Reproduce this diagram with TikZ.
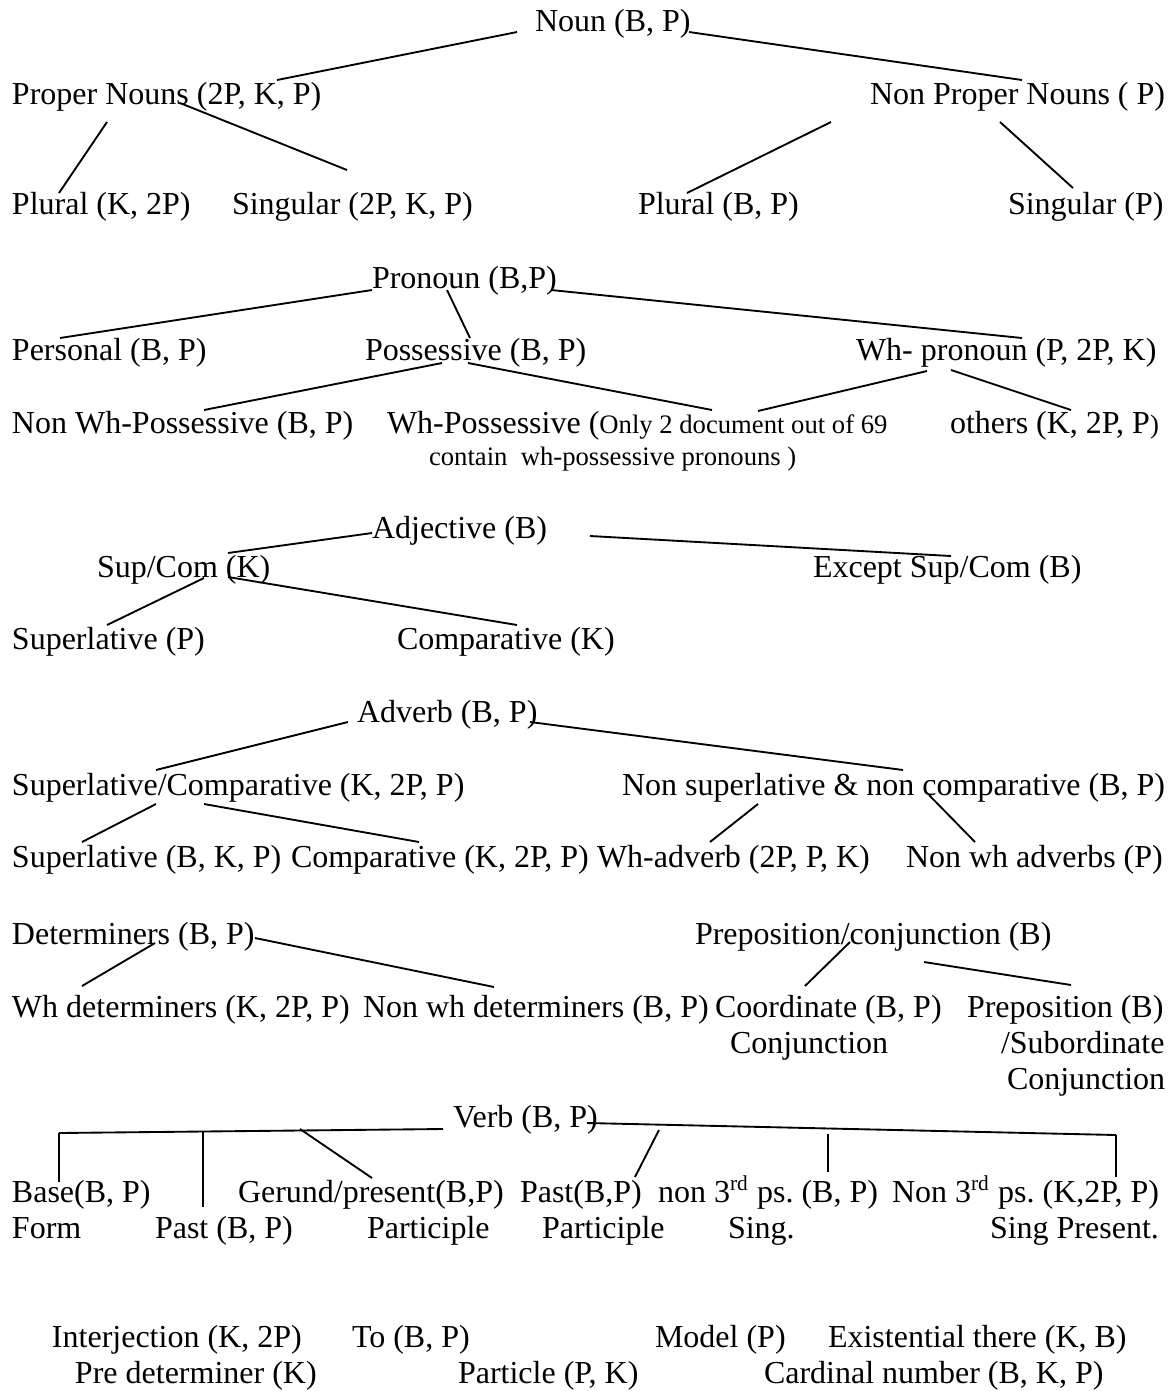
\documentclass[tikz,border=0pt]{standalone}
\usepackage{fontspec}
\setmainfont{Liberation Serif}
\newcommand\smallfnt{\fontsize{10}{12}\selectfont}
\frenchspacing
\begin{document}
\begin{tikzpicture}[x=0.375pt,y=-0.375pt,
  lbl/.style={anchor=base west,inner sep=0pt,outer sep=0pt,font=\fontsize{12}{13.8}\selectfont},
  conn/.style={line width=0.7pt}]
\useasboundingbox (0,0) rectangle (1169,1391);

% ---------- Noun ----------
\node[lbl] (noun) at (535,31) {Noun (B, P)};
\node[lbl] (proper) at (12,104) {Proper Nouns (2P, K, P)};
\node[lbl] (nonproper) at (870,104) {Non Proper Nouns ( P)};
\node[lbl] (plural1) at (12,214) {Plural (K, 2P)};
\node[lbl] (singular1) at (232,214) {Singular (2P, K, P)};
\node[lbl] (plural2) at (638,214) {Plural (B, P)};
\node[lbl] (singular2) at (1008,214) {Singular (P)};

\draw[conn] ([shift={(-18,1)}]noun.base west) -- ([shift={(265,-24)}]proper.base west);
\draw[conn] ([shift={(154,1)}]noun.base west) -- ([shift={(152,-24)}]nonproper.base west);
\draw[conn] ([shift={(95,18)}]proper.base west) -- ([shift={(47,-21)}]plural1.base west);
\draw[conn] ([shift={(168,-1)}]proper.base west) -- ([shift={(115,-44)}]singular1.base west);
\draw[conn] ([shift={(-39,18)}]nonproper.base west) -- ([shift={(49,-21)}]plural2.base west);
\draw[conn] ([shift={(130,18)}]nonproper.base west) -- ([shift={(65,-26)}]singular2.base west);

% ---------- Pronoun ----------
\node[lbl] (pronoun) at (372,288) {Pronoun (B,P)};
\node[lbl] (personal) at (12,360) {Personal (B, P)};
\node[lbl] (possessive) at (365,360) {Possessive (B, P)};
\node[lbl] (whpron) at (856,360) {Wh- pronoun (P, 2P, K)};
\node[lbl] (nonwhposs) at (12,433) {Non Wh-Possessive (B, P)};
\node[lbl] (whposs) at (387,433) {Wh-Possessive ({\smallfnt Only 2 document out of 69}};
\node[lbl] (others) at (950,433) {others (K, 2P, P{\smallfnt )}};
\node[lbl,font=\smallfnt] (contain) at (429,465) {contain\ \ wh-possessive pronouns )};

\draw[conn] ([shift={(0,2)}]pronoun.base west) -- ([shift={(48,-22)}]personal.base west);
\draw[conn] ([shift={(75,2)}]pronoun.base west) -- ([shift={(105,-22)}]possessive.base west);
\draw[conn] ([shift={(179,2)}]pronoun.base west) -- ([shift={(166,-22)}]whpron.base west);
\draw[conn] ([shift={(77,3)}]possessive.base west) -- ([shift={(192,-23)}]nonwhposs.base west);
\draw[conn] ([shift={(103,3)}]possessive.base west) -- ([shift={(325,-23)}]whposs.base west);
\draw[conn] ([shift={(71,11)}]whpron.base west) -- ([shift={(371,-22)}]whposs.base west);
\draw[conn] ([shift={(95,10)}]whpron.base west) -- ([shift={(121,-23)}]others.base west);

% ---------- Adjective ----------
\node[lbl] (adjective) at (372,538) {Adjective (B)};
\node[lbl] (supcom) at (97,577) {Sup/Com (K)};
\node[lbl] (except) at (813,577) {Except Sup/Com (B)};
\node[lbl] (sup1) at (12,649) {Superlative (P)};
\node[lbl] (comp1) at (397,649) {Comparative (K)};

\draw[conn] ([shift={(0,-5)}]adjective.base west) -- ([shift={(131,-24)}]supcom.base west);
\draw[conn] ([shift={(218,-2)}]adjective.base west) -- ([shift={(138,-21)}]except.base west);
\draw[conn] ([shift={(107,1)}]supcom.base west) -- ([shift={(95,-24)}]sup1.base west);
\draw[conn] ([shift={(131,0)}]supcom.base west) -- ([shift={(120,-24)}]comp1.base west);

% ---------- Adverb ----------
\node[lbl] (adverb) at (357,722) {Adverb (B, P)};
\node[lbl] (supcomp) at (12,795) {Superlative/Comparative (K, 2P, P)};
\node[lbl] (nonsup) at (622,795) {Non superlative \& non comparative (B, P)};
\node[lbl] (sup2) at (12,867) {Superlative (B, K, P)};
\node[lbl] (comp2) at (291,867) {Comparative (K, 2P, P)};
\node[lbl] (whadv) at (597,867) {Wh-adverb (2P, P, K)};
\node[lbl] (nonwhadv) at (906,867) {Non wh adverbs (P)};

\draw[conn] ([shift={(-9,0)}]adverb.base west) -- ([shift={(144,-25)}]supcomp.base west);
\draw[conn] ([shift={(173,0)}]adverb.base west) -- ([shift={(281,-25)}]nonsup.base west);
\draw[conn] ([shift={(144,9)}]supcomp.base west) -- ([shift={(70,-25)}]sup2.base west);
\draw[conn] ([shift={(192,9)}]supcomp.base west) -- ([shift={(128,-25)}]comp2.base west);
\draw[conn] ([shift={(136,9)}]nonsup.base west) -- ([shift={(113,-25)}]whadv.base west);
\draw[conn] ([shift={(307,0)}]nonsup.base west) -- ([shift={(69,-25)}]nonwhadv.base west);

% ---------- Determiners / Preposition ----------
\node[lbl] (det) at (12,944) {Determiners (B, P)};
\node[lbl] (prepconj) at (695,944) {Preposition/conjunction (B)};
\node[lbl] (whdet) at (12,1017) {Wh determiners (K, 2P, P)};
\node[lbl] (nonwhdet) at (363,1017) {Non wh determiners (B, P)};
\node[lbl] (coord) at (715,1017) {Coordinate (B, P)};
\node[lbl] (conj1) at (730,1053) {Conjunction};
\node[lbl] (prepB) at (967,1017) {Preposition (B)};
\node[lbl] (subord) at (1001,1053) {/Subordinate};
\node[lbl] (conj2) at (1007,1089) {Conjunction};

\draw[conn] ([shift={(143,-1)}]det.base west) -- ([shift={(70,-31)}]whdet.base west);
\draw[conn] ([shift={(243,-6)}]det.base west) -- ([shift={(131,-30)}]nonwhdet.base west);
\draw[conn] ([shift={(155,-2)}]prepconj.base west) -- ([shift={(90,-31)}]coord.base west);
\draw[conn] ([shift={(229,18)}]prepconj.base west) -- ([shift={(104,-32)}]prepB.base west);

% ---------- Verb ----------
\node[lbl] (verb) at (453,1127) {Verb (B, P)};
\node[lbl] (base) at (12,1202) {Base(B, P)};
\node[lbl] (form) at (12,1238) {Form};
\node[lbl] (past) at (155,1238) {Past (B, P)};
\node[lbl] (gerund) at (238,1202) {Gerund/present(B,P)};
\node[lbl] (part1) at (367,1238) {Participle};
\node[lbl] (pastpart) at (520,1202) {Past(B,P)};
\node[lbl] (part2) at (542,1238) {Participle};
\node[lbl] (nonthird) at (658,1202) {non 3\textsuperscript{rd} ps. (B, P)};
\node[lbl] (sing) at (728,1238) {Sing.};
\node[lbl] (Nonthird) at (892,1202) {Non 3\textsuperscript{rd} ps. (K,2P, P)};
\node[lbl] (singpres) at (990,1238) {Sing Present.};

\coordinate (vL) at (59,1133);
\coordinate (vR) at (1116,1135);
\draw[conn] ([shift={(-10,2)}]verb.base west) -- (vL);
\draw[conn] ([shift={(134,-4)}]verb.base west) -- (vR);
\draw[conn] (vL) -- ([shift={(47,-20)}]base.base west);
\draw[conn] ([shift={(144,-1)}]vL) -- ([shift={(48,-31)}]past.base west);
\draw[conn] ([shift={(241,-4)}]vL) -- ([shift={(134,-24)}]gerund.base west);
\draw[conn] ([shift={(-457,-5)}]vR) -- ([shift={(115,-25)}]pastpart.base west);
\draw[conn] ([shift={(-288,-1)}]vR) -- ([shift={(170,-30)}]nonthird.base west);
\draw[conn] (vR) -- ([shift={(224,-25)}]Nonthird.base west);

% ---------- Others ----------
\node[lbl] (interj) at (52,1347) {Interjection (K, 2P)};
\node[lbl] (to) at (352,1347) {To (B, P)};
\node[lbl] (model) at (655,1347) {Model (P)};
\node[lbl] (exist) at (828,1347) {Existential there (K, B)};
\node[lbl] (predet) at (75,1383) {Pre determiner (K)};
\node[lbl] (particle) at (458,1383) {Particle (P, K)};
\node[lbl] (cardinal) at (764,1383) {Cardinal number (B, K, P)};
\end{tikzpicture}
\end{document}
